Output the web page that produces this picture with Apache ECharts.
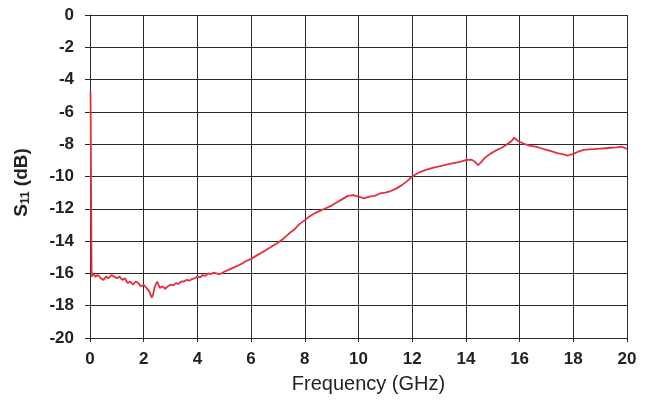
<!DOCTYPE html>
<html>
<head>
<meta charset="utf-8">
<script src="https://cdn.jsdelivr.net/npm/echarts@6/dist/echarts.min.js"></script>
<style>
html,body{margin:0;padding:0;background:#fff;}
#chart{width:655px;height:403px;}
</style>
</head>
<body>
<div id="chart"></div>
<script>
// Frequency (GHz)
var freq = [0.02,0.04,0.06,0.1,0.2,0.3,0.4,0.5,0.6,0.7,0.8,0.9,1.0,1.1,1.2,1.3,1.4,1.5,1.6,1.7,1.8,1.9,2.0,2.1,2.2,2.25,2.3,2.35,2.4,2.45,2.5,2.55,2.6,2.7,2.8,2.9,3.0,3.1,3.2,3.3,3.4,3.5,3.6,3.7,3.8,3.9,4.0,4.1,4.2,4.3,4.4,4.5,4.6,4.7,4.8,4.9,5.0,5.2,5.4,5.6,5.8,6.0,6.2,6.4,6.6,6.8,7.0,7.2,7.4,7.6,7.8,8.0,8.2,8.4,8.6,8.8,9.0,9.2,9.4,9.6,9.8,10.0,10.2,10.4,10.6,10.8,11.0,11.2,11.4,11.6,11.8,12.0,12.2,12.4,12.6,12.8,13.0,13.2,13.4,13.6,13.8,14.0,14.2,14.35,14.45,14.55,14.7,14.9,15.1,15.3,15.5,15.7,15.8,15.9,16.0,16.2,16.4,16.6,16.8,17.0,17.2,17.4,17.6,17.8,18.0,18.2,18.4,18.6,18.8,19.0,19.2,19.4,19.6,19.8,20.0];
// S11 (dB)
var s11 = [-4.8,-10.6,-16.2,-16.0,-16.2,-16.1,-16.3,-16.4,-16.2,-16.3,-16.1,-16.2,-16.3,-16.2,-16.4,-16.3,-16.6,-16.5,-16.7,-16.5,-16.6,-16.8,-16.7,-16.9,-17.1,-17.0,-17.5,-17.3,-16.9,-16.7,-16.5,-16.6,-16.9,-16.8,-16.95,-16.8,-16.7,-16.75,-16.6,-16.65,-16.5,-16.5,-16.4,-16.45,-16.35,-16.3,-16.2,-16.25,-16.1,-16.15,-16.0,-16.05,-15.95,-16.0,-16.05,-16.0,-15.9,-15.75,-15.6,-15.45,-15.25,-15.1,-14.9,-14.7,-14.5,-14.3,-14.1,-13.85,-13.55,-13.3,-12.95,-12.7,-12.45,-12.25,-12.1,-11.95,-11.8,-11.6,-11.4,-11.2,-11.15,-11.25,-11.35,-11.25,-11.2,-11.05,-11.0,-10.9,-10.75,-10.55,-10.3,-10.0,-9.8,-9.65,-9.55,-9.45,-9.38,-9.3,-9.22,-9.15,-9.08,-8.98,-8.95,-9.1,-9.3,-9.15,-8.85,-8.6,-8.4,-8.25,-8.05,-7.8,-7.6,-7.75,-7.85,-8.0,-8.1,-8.15,-8.25,-8.35,-8.45,-8.55,-8.62,-8.7,-8.6,-8.45,-8.35,-8.32,-8.3,-8.28,-8.25,-8.22,-8.2,-8.15,-8.3];
var xTicks = [0,2,4,6,8,10,12,14,16,18,20];
var yTicks = [0,-2,-4,-6,-8,-10,-12,-14,-16,-18,-20];

var data = freq.map(function(f,i){return [f,s11[i]];});
var gridColor = '#2a2a2a';
var chart = echarts.init(document.getElementById('chart'));
chart.setOption({
  animation:false,
  backgroundColor:'#fff',
  grid:{left:90,right:28,top:15,bottom:65},
  xAxis:{
    type:'value',min:xTicks[0],max:xTicks[xTicks.length-1],interval:2,
    name:'Frequency (GHz)',nameLocation:'middle',nameGap:36,
    nameTextStyle:{fontFamily:'Liberation Sans',fontSize:20,color:'#222',padding:[0,0,0,20]},
    axisLine:{onZero:false,lineStyle:{color:gridColor,width:1}},
    axisTick:{show:true,length:4,lineStyle:{color:gridColor}},
    axisLabel:{margin:13,fontFamily:'Liberation Sans',fontSize:17,fontWeight:'bold',color:'#222'},
    splitLine:{show:true,lineStyle:{color:gridColor,width:1}}
  },
  yAxis:{
    type:'value',min:yTicks[yTicks.length-1],max:yTicks[0],interval:2,
    name:'{s|S}{sub|11}{s| (dB)}',nameLocation:'middle',nameGap:58,nameRotate:90,
    nameTextStyle:{padding:[0,12,0,0],rich:{
      s:{fontFamily:'Liberation Sans',fontSize:19,fontWeight:'bold',color:'#222'},
      sub:{fontFamily:'Liberation Sans',fontSize:12,fontWeight:'bold',color:'#222',verticalAlign:'bottom',padding:[9,0,0,0]}
    }},
    axisLine:{show:true,onZero:false,lineStyle:{color:gridColor,width:1}},
    axisTick:{show:true,length:5,lineStyle:{color:gridColor}},
    axisLabel:{margin:16,fontFamily:'Liberation Sans',fontSize:17,fontWeight:'bold',color:'#222'},
    splitLine:{show:true,lineStyle:{color:gridColor,width:1}}
  },
  series:[{
    type:'line',data:data,showSymbol:false,smooth:false,
    lineStyle:{color:'#e5303c',width:1.8},
    itemStyle:{color:'#e5303c'}
  }]
});
</script>
</body>
</html>
